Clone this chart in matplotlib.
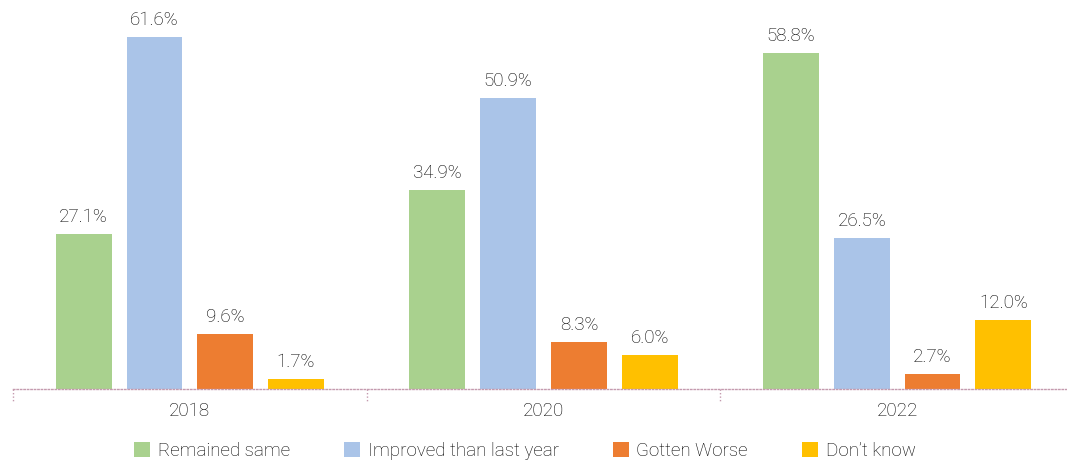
import matplotlib.pyplot as plt
import numpy as np

# data
years = ["2018", "2020", "2022"]
series = ["Remained same", "Improved than last year", "Gotten Worse", "Don\u2019t know"]
remained = [27.1, 34.9, 58.8]
improved = [61.6, 50.9, 26.5]
worse = [9.6, 8.3, 2.7]
dont_know = [1.7, 6.0, 12.0]
colors = ["#a9d18e", "#aac4e8", "#ed7d31", "#ffc000"]

plt.rcParams["font.family"] = ["Roboto", "DejaVu Sans"]
plt.rcParams["font.weight"] = "light"
fs = 13.5
tc = "#000000"

fig = plt.figure(figsize=(10.67, 4.62), dpi=100)
ax = fig.add_axes([13 / 1067, 73 / 462, 1061 / 1067, 389 / 462])

x = np.arange(len(years))
step = 0.2
width = 0.158
values = [remained, improved, worse, dont_know]
for i, (name, vals, c) in enumerate(zip(series, values, colors)):
    pos = x + (i - 1.5) * step
    bars = ax.bar(pos, vals, width, color=c, label=name)
    for p, v in zip(pos, vals):
        ax.text(p, v + 1.4, f"{v:.1f}%", ha="center", va="bottom",
                fontsize=fs, color=tc)

ax.set_xlim(-0.5, 2.5)
ax.set_ylim(0, 68.1)
ax.set_yticks([])
for s in ["top", "right", "left"]:
    ax.spines[s].set_visible(False)
ax.spines["bottom"].set_color("#c49aae")
ax.spines["bottom"].set_linestyle((0, (1, 1.5)))
ax.spines["bottom"].set_linewidth(1.0)

ax.set_xticks(x)
ax.set_xticklabels(years, fontsize=fs, color=tc)
ax.tick_params(axis="x", length=0, pad=9)

# dotted group dividers below the axis
trans = ax.get_xaxis_transform()
for b in np.arange(-0.5, len(years), 1.0):
    ax.plot([b, b], [0, -0.034], transform=trans, color="#c49aae",
            linestyle=(0, (1, 1.5)), linewidth=1.0, clip_on=False)

fig.legend(loc="center", bbox_to_anchor=(525 / 1067, 11 / 462), ncol=4,
           frameon=False, fontsize=fs, handlelength=0.85, handleheight=0.85,
           handletextpad=0.4, columnspacing=2.9, labelcolor=tc)

fig.savefig("out.png", dpi=100)
